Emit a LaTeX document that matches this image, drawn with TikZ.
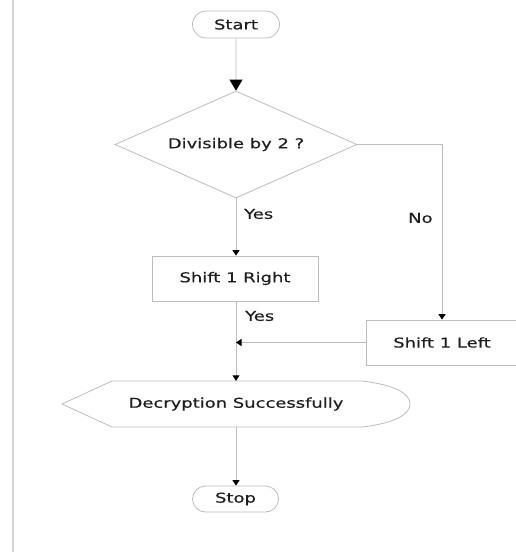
\documentclass[tikz,border=0pt]{standalone}
\usepackage{fontspec}
\setmainfont{DejaVu Sans}[FakeStretch=1.33,FakeBold=0.4]
\usetikzlibrary{arrows.meta,shapes.geometric,shapes.misc}

\definecolor{edgegray}{RGB}{188,188,188}
\definecolor{rulegray}{RGB}{212,212,212}
\definecolor{inkgray}{RGB}{30,30,30}

\tikzset{
  flowtext/.style={font=\fontsize{13.5}{15}\selectfont, text=inkgray},
  terminal/.style={rounded rectangle, draw=edgegray, line width=0.8pt, inner sep=0pt, flowtext},
  process/.style={rectangle, draw=edgegray, line width=0.8pt, inner sep=0pt, flowtext},
  decision/.style={diamond, aspect=2.26, draw=edgegray, line width=0.8pt, inner sep=0pt, flowtext},
  flowline/.style={draw=edgegray, line width=0.9pt, -{Triangle[width=7pt,length=5.5pt,fill=black,color=black]}},
  bigline/.style={draw=edgegray, line width=0.9pt, -{Triangle[width=13pt,length=11pt,fill=black,color=black]}},
  branchlabel/.style={flowtext, anchor=west, inner sep=0pt},
}

\begin{document}
\begin{tikzpicture}[x=1pt,y=-1pt]
  \useasboundingbox (0,0) rectangle (516,552);
  \clip (0,0) rectangle (516,552);

  % page margin rule
  \draw[rulegray, line width=2.5pt] (13,0) -- (13,552);

  % nodes
  \node[terminal, minimum width=87pt, minimum height=27pt] (start) at (236,24.5) {Start};
  \node[decision, minimum width=242pt, minimum height=107pt] (div) at (236,144.5) {Divisible by 2 ?};
  \node[process, minimum width=166pt, minimum height=45pt] (sright) at (235,278.5) {Shift 1 Right};
  \node[process, minimum width=152pt, minimum height=45pt] (sleft) at (442,342.5) {Shift 1 Left};

  % display shape
  \node[minimum width=348pt, minimum height=46pt, inner sep=0pt, flowtext] (disp) at (236,404) {Decryption Successfully};
  \draw[edgegray, line width=0.8pt]
    (62,404) -- (112,381) -- (362,381)
    .. controls (396,385) and (410,394) .. (410,404)
    .. controls (410,414) and (396,423) .. (362,427)
    -- (112,427) -- cycle;

  \node[terminal, minimum width=86pt, minimum height=26pt] (stop) at (235.5,499) {Stop};

  \coordinate (join) at (236,342.5);

  % connectors
  \draw[bigline] (start) -- (div.north);
  \draw[flowline] (div.south) -- (div.south |- sright.north);
  \draw[flowline] (div.east) -| (sleft.north);
  \draw[edgegray, line width=0.9pt] (sright.south -| div.south) -- (div.south |- disp.north);
  \draw[flowline] (join) -- (div.south |- disp.north);
  \draw[flowline] (sleft.west) -- (join);
  \draw[flowline] (disp.south) -- (disp.south |- stop.north);

  % branch labels
  \node[branchlabel] (yes1) at (244,214) {Yes};
  \node[branchlabel] (no1) at (408,218) {No};
  \node[branchlabel] (yes2) at (245,316) {Yes};
\end{tikzpicture}
\end{document}
